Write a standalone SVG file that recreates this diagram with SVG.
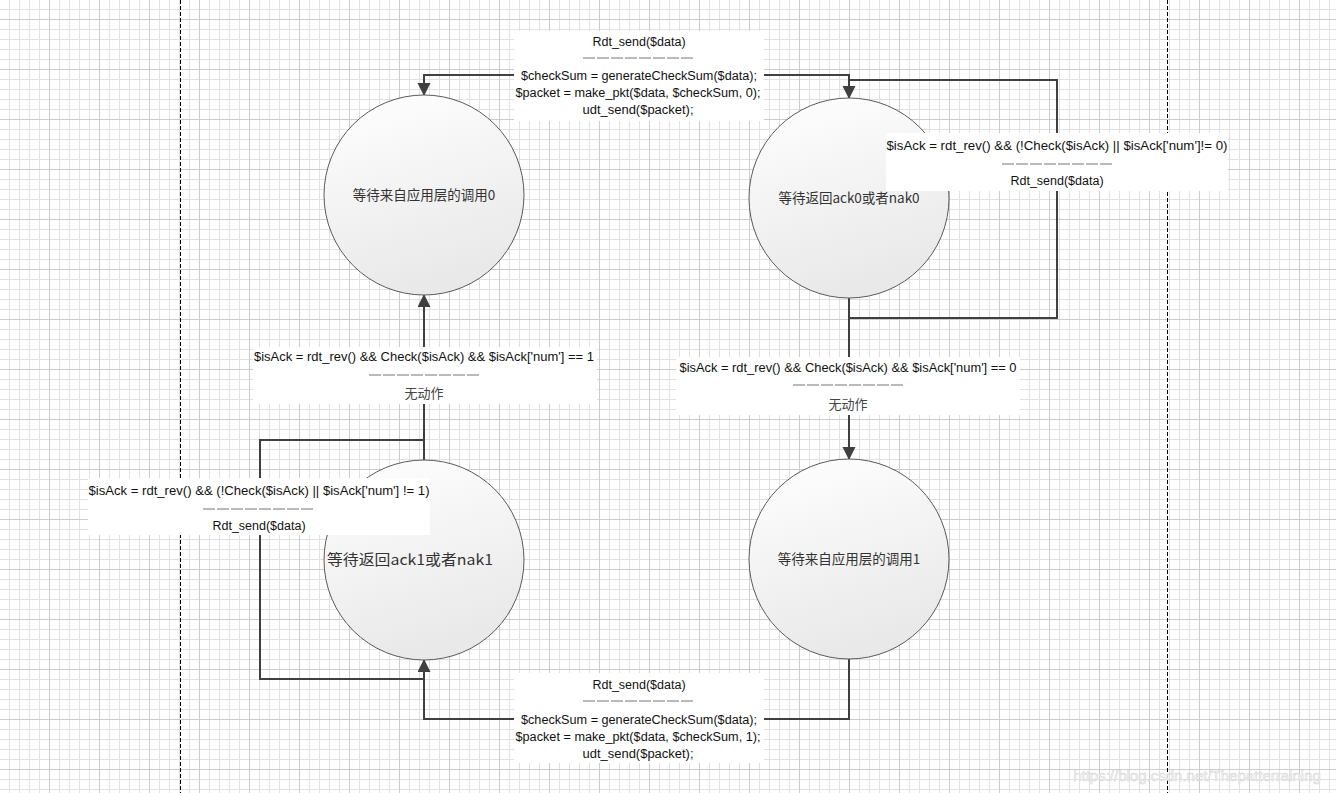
<svg xmlns="http://www.w3.org/2000/svg" width="1336" height="793" viewBox="0 0 1336 793">
<defs>
<pattern id="minor" patternUnits="userSpaceOnUse" width="10" height="10">
<path d="M9.5 0V10M0 9.5H10" stroke="#e1e1e1" stroke-width="1" fill="none"/>
</pattern>
<pattern id="major" patternUnits="userSpaceOnUse" width="50" height="50">
<path d="M49.5 0V50M0 19.5H50" stroke="#cccccc" stroke-width="1" fill="none"/>
</pattern>
<linearGradient id="cfill" x1="0" y1="0" x2="0.3" y2="1">
<stop offset="0" stop-color="#ffffff"/>
<stop offset="1" stop-color="#e9e9e9"/>
</linearGradient>
<marker id="arr" markerUnits="userSpaceOnUse" markerWidth="14" markerHeight="14" refX="12" refY="6.5" orient="auto">
<path d="M0,0 L13,6.5 L0,13 z" fill="#404040"/>
</marker>
</defs>
<style>
.conn{fill:none;stroke:#404040;stroke-width:2}
.state{fill:url(#cfill);stroke:#5a5a5a;stroke-width:1}
.st{font-family:"Noto Sans CJK SC","Noto Sans",sans-serif;font-size:13.5px;fill:#333;text-anchor:middle}
.lbl{font-family:"Liberation Sans","Noto Sans CJK SC",sans-serif;font-size:12.5px;fill:#111;text-anchor:middle}
.cjk{font-family:"Noto Sans CJK SC",sans-serif;font-size:13px;fill:#444;text-anchor:middle}
.box{fill:#ffffff;stroke:none}
.sep{stroke:#777;stroke-width:1;stroke-dasharray:12 2;fill:none}
.div{stroke:#000;stroke-width:1;stroke-dasharray:4 2;fill:none}
</style>
<rect width="1336" height="793" fill="#ffffff"/>
<rect width="1336" height="793" fill="url(#minor)"/>
<rect width="1336" height="793" fill="url(#major)"/>
<line class="div" x1="180.5" y1="0" x2="180.5" y2="793"/>
<line class="div" x1="1167.5" y1="0" x2="1167.5" y2="793"/>

<g id="connectors">
<path class="conn" d="M849,85 V75 H424 V95" marker-end="url(#arr)"/>
<path class="conn" d="M849,298 V318 H1057 V80 H849 V98" marker-end="url(#arr)"/>
<path class="conn" d="M849,298 V459" marker-end="url(#arr)"/>
<path class="conn" d="M849,659 V719 H424 V660" marker-end="url(#arr)"/>
<path class="conn" d="M424,460 V440 H260 V679 H424"/>
<path class="conn" d="M424,440 V295" marker-end="url(#arr)"/>
</g>

<g id="state-wait-call-0">
<circle class="state" cx="424" cy="195" r="100"/>
<text class="st" x="424" y="200">等待来自应用层的调用0</text>
</g>
<g id="state-wait-ack-0">
<circle class="state" cx="849" cy="198" r="100"/>
<text class="st" x="849" y="203">等待返回ack0或者nak0</text>
</g>
<g id="state-wait-ack-1">
<circle class="state" cx="424" cy="560" r="100"/>
<text class="st" x="410" y="565" style="font-size:14.5px" textLength="166" lengthAdjust="spacingAndGlyphs">等待返回ack1或者nak1</text>
</g>
<g id="state-wait-call-1">
<circle class="state" cx="849" cy="559" r="100"/>
<text class="st" x="849" y="564">等待来自应用层的调用1</text>
</g>

<g id="label-top">
<rect class="box" x="514" y="31" width="250" height="90"/>
<text class="lbl" x="639" y="46">Rdt_send($data)</text>
<line class="sep" x1="583" y1="58" x2="694" y2="58"/>
<text class="lbl" x="639" y="80" textLength="236" lengthAdjust="spacingAndGlyphs">$checkSum = generateCheckSum($data);</text>
<text class="lbl" x="638" y="97" textLength="245" lengthAdjust="spacingAndGlyphs">$packet = make_pkt($data, $checkSum, 0);</text>
<text class="lbl" x="638" y="114" textLength="111" lengthAdjust="spacingAndGlyphs">udt_send($packet);</text>
</g>

<g id="label-right-loop">
<rect class="box" x="886" y="133" width="342" height="58"/>
<text class="lbl" x="1057" y="150" textLength="341" lengthAdjust="spacingAndGlyphs">$isAck = rdt_rev() &amp;&amp; (!Check($isAck) ||  $isAck['num']!= 0)</text>
<line class="sep" x1="1002" y1="164" x2="1112" y2="164"/>
<text class="lbl" x="1057" y="185">Rdt_send($data)</text>
</g>

<g id="label-right-mid">
<rect class="box" x="676" y="357" width="344" height="58"/>
<text class="lbl" x="848" y="372" textLength="337" lengthAdjust="spacingAndGlyphs">$isAck = rdt_rev() &amp;&amp; Check($isAck) &amp;&amp; $isAck['num'] == 0</text>
<line class="sep" x1="793" y1="385" x2="903" y2="385"/>
<text class="cjk" x="848" y="409">无动作</text>
</g>

<g id="label-left-mid">
<rect class="box" x="253" y="347" width="344" height="57"/>
<text class="lbl" x="424" y="361" textLength="340" lengthAdjust="spacingAndGlyphs">$isAck = rdt_rev() &amp;&amp; Check($isAck) &amp;&amp;  $isAck['num'] == 1</text>
<line class="sep" x1="369" y1="375" x2="479" y2="375"/>
<text class="cjk" x="424" y="398">无动作</text>
</g>

<g id="label-left-loop">
<rect class="box" x="88" y="478" width="342" height="57"/>
<text class="lbl" x="259" y="495" textLength="341" lengthAdjust="spacingAndGlyphs">$isAck = rdt_rev() &amp;&amp; (!Check($isAck) || $isAck['num'] != 1)</text>
<line class="sep" x1="203" y1="509" x2="313" y2="509"/>
<text class="lbl" x="259" y="530">Rdt_send($data)</text>
</g>

<g id="label-bottom">
<rect class="box" x="514" y="673" width="250" height="90"/>
<text class="lbl" x="639" y="689">Rdt_send($data)</text>
<line class="sep" x1="583" y1="701" x2="694" y2="701"/>
<text class="lbl" x="639" y="724" textLength="236" lengthAdjust="spacingAndGlyphs">$checkSum = generateCheckSum($data);</text>
<text class="lbl" x="638" y="741" textLength="245" lengthAdjust="spacingAndGlyphs">$packet = make_pkt($data, $checkSum, 1);</text>
<text class="lbl" x="638" y="758" textLength="111" lengthAdjust="spacingAndGlyphs">udt_send($packet);</text>
</g>

<text x="1197" y="781" text-anchor="middle" font-family="Liberation Sans, sans-serif" font-size="15" fill="#f4f4f4" stroke="#d6d6d6" stroke-width="0.5">https://blog.csdn.net/Thepatterraining</text>
</svg>
